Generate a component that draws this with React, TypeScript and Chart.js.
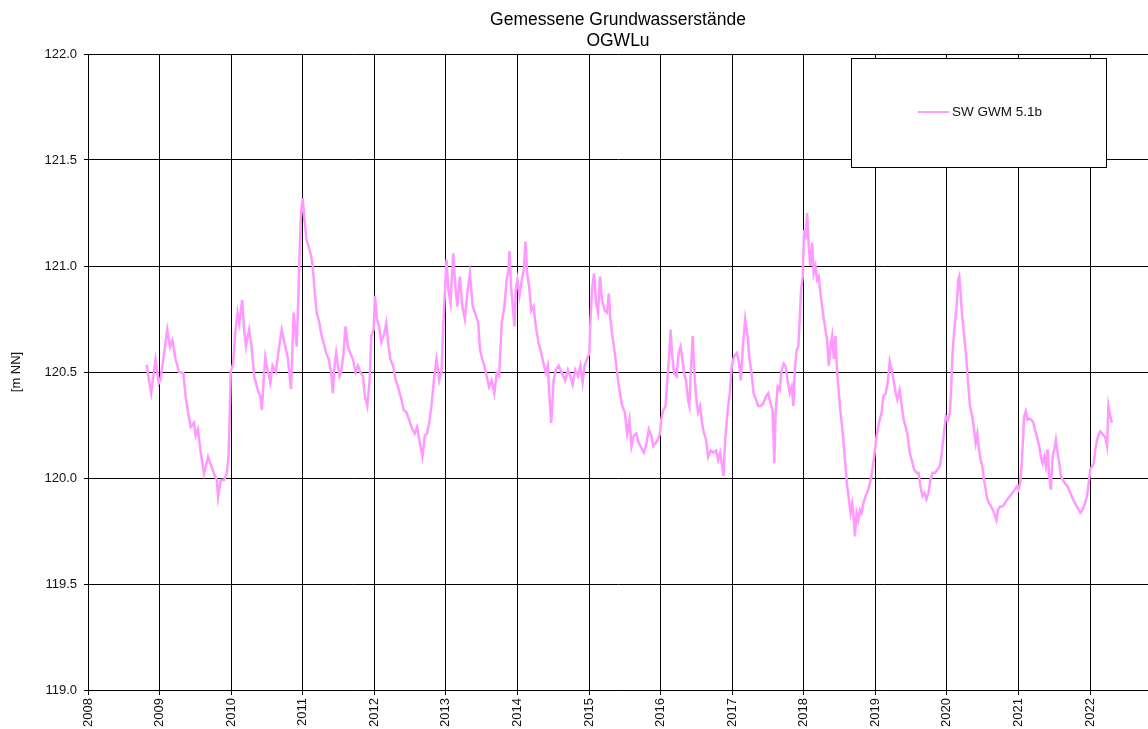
import { useEffect, useRef } from 'react';
import { Chart, registerables } from 'chart.js';

Chart.register(...registerables);

const chartTitle = ['Gemessene Grundwasserstände', 'OGWLu'];
const seriesLabel = 'SW GWM 5.1b';
const yAxisLabel = '[m NN]';
const yearTicks = [2008, 2009, 2010, 2011, 2012, 2013, 2014, 2015, 2016, 2017, 2018, 2019, 2020, 2021, 2022];
const levelTicks = [119.0, 119.5, 120.0, 120.5, 121.0, 121.5, 122.0];

// sample time (decimal year) and measured level [m NN], 2008-2010
const years2008 = [2008.818, 2008.85, 2008.883, 2008.944, 2008.99, 2009.014, 2009.107, 2009.145, 2009.178, 2009.224, 2009.271, 2009.332, 2009.364, 2009.397, 2009.435, 2009.481, 2009.505, 2009.537, 2009.575, 2009.621, 2009.678, 2009.724, 2009.762, 2009.8, 2009.818, 2009.855, 2009.902, 2009.939, 2009.963, 2009.981, 2009.995, 2010.028, 2010.056, 2010.089, 2010.112, 2010.154, 2010.182, 2010.206, 2010.252, 2010.285, 2010.322, 2010.36, 2010.407, 2010.43, 2010.453, 2010.477, 2010.509, 2010.547, 2010.579, 2010.626, 2010.659, 2010.706, 2010.743, 2010.79, 2010.836, 2010.874, 2010.916, 2010.939, 2010.958, 2010.977];
const levels2008 = [120.535, 120.464, 120.40, 120.558, 120.448, 120.464, 120.70, 120.62, 120.65, 120.56, 120.50, 120.495, 120.385, 120.31, 120.24, 120.26, 120.20, 120.23, 120.12, 120.02, 120.10, 120.055, 120.02, 119.99, 119.91, 119.99, 119.99, 120.02, 120.10, 120.31, 120.50, 120.54, 120.68, 120.78, 120.73, 120.84, 120.70, 120.62, 120.70, 120.62, 120.48, 120.43, 120.385, 120.32, 120.46, 120.57, 120.51, 120.45, 120.53, 120.50, 120.59, 120.70, 120.64, 120.57, 120.42, 120.78, 120.62, 120.86, 121.08, 121.25];

// 2011-2013
const years2011 = [2011.0, 2011.023, 2011.056, 2011.084, 2011.117, 2011.14, 2011.164, 2011.196, 2011.234, 2011.257, 2011.29, 2011.327, 2011.364, 2011.397, 2011.421, 2011.444, 2011.467, 2011.491, 2011.514, 2011.537, 2011.57, 2011.598, 2011.631, 2011.664, 2011.701, 2011.738, 2011.771, 2011.804, 2011.841, 2011.869, 2011.902, 2011.935, 2011.958, 2011.991, 2012.009, 2012.037, 2012.065, 2012.098, 2012.131, 2012.168, 2012.192, 2012.224, 2012.262, 2012.299, 2012.332, 2012.379, 2012.411, 2012.449, 2012.486, 2012.519, 2012.565, 2012.598, 2012.636, 2012.673, 2012.706, 2012.738, 2012.766, 2012.799, 2012.832, 2012.869, 2012.907, 2012.939, 2012.963, 2012.986, 2013.009, 2013.033, 2013.065, 2013.103, 2013.126, 2013.159, 2013.196, 2013.229, 2013.266, 2013.299, 2013.336, 2013.374, 2013.407];
const levels2011 = [121.32, 121.22, 121.12, 121.09, 121.05, 121.0, 120.89, 120.78, 120.73, 120.68, 120.64, 120.59, 120.56, 120.50, 120.40, 120.53, 120.59, 120.53, 120.48, 120.50, 120.59, 120.715, 120.62, 120.59, 120.56, 120.50, 120.53, 120.50, 120.48, 120.385, 120.34, 120.46, 120.67, 120.70, 120.86, 120.75, 120.715, 120.64, 120.67, 120.73, 120.64, 120.56, 120.53, 120.46, 120.43, 120.37, 120.32, 120.31, 120.275, 120.24, 120.21, 120.24, 120.165, 120.10, 120.20, 120.21, 120.26, 120.34, 120.46, 120.56, 120.46, 120.50, 120.715, 120.87, 121.03, 120.89, 120.825, 121.06, 120.935, 120.81, 120.95, 120.81, 120.75, 120.87, 120.965, 120.81, 120.78];

// 2013-2015
const years2013 = [2013.453, 2013.477, 2013.509, 2013.537, 2013.57, 2013.603, 2013.64, 2013.678, 2013.71, 2013.743, 2013.762, 2013.78, 2013.818, 2013.85, 2013.874, 2013.888, 2013.911, 2013.935, 2013.958, 2013.977, 2014.0, 2014.028, 2014.061, 2014.089, 2014.112, 2014.136, 2014.164, 2014.192, 2014.224, 2014.257, 2014.294, 2014.332, 2014.364, 2014.397, 2014.425, 2014.444, 2014.472, 2014.505, 2014.537, 2014.575, 2014.621, 2014.668, 2014.706, 2014.738, 2014.771, 2014.808, 2014.846, 2014.879, 2014.911, 2014.939, 2014.972, 2015.005, 2015.019, 2015.042, 2015.07, 2015.098, 2015.126, 2015.154, 2015.182, 2015.22, 2015.252, 2015.276, 2015.299, 2015.322, 2015.36, 2015.393, 2015.425, 2015.463, 2015.5, 2015.533, 2015.565, 2015.593, 2015.626, 2015.659, 2015.696];
const levels2013 = [120.73, 120.605, 120.56, 120.53, 120.48, 120.43, 120.46, 120.40, 120.495, 120.48, 120.605, 120.73, 120.81, 120.935, 120.98, 121.07, 120.90, 120.81, 120.715, 120.89, 120.935, 120.86, 120.935, 120.98, 121.115, 120.965, 120.90, 120.79, 120.81, 120.715, 120.64, 120.59, 120.54, 120.495, 120.53, 120.40, 120.26, 120.46, 120.51, 120.53, 120.495, 120.46, 120.51, 120.48, 120.44, 120.51, 120.48, 120.53, 120.45, 120.53, 120.56, 120.59, 120.73, 120.89, 120.965, 120.825, 120.78, 120.95, 120.84, 120.79, 120.78, 120.87, 120.75, 120.68, 120.59, 120.495, 120.415, 120.34, 120.31, 120.21, 120.275, 120.15, 120.20, 120.21, 120.165];

// 2015-2017
const years2016 = [2015.766, 2015.804, 2015.836, 2015.869, 2015.897, 2015.93, 2015.963, 2015.991, 2016.009, 2016.037, 2016.07, 2016.093, 2016.117, 2016.14, 2016.159, 2016.187, 2016.224, 2016.252, 2016.28, 2016.304, 2016.327, 2016.355, 2016.383, 2016.402, 2016.421, 2016.449, 2016.472, 2016.495, 2016.523, 2016.551, 2016.579, 2016.607, 2016.636, 2016.664, 2016.701, 2016.738, 2016.776, 2016.804, 2016.832, 2016.86, 2016.879, 2016.902, 2016.935, 2016.967, 2016.995, 2017.028, 2017.065, 2017.098, 2017.121, 2017.15, 2017.182, 2017.215, 2017.243, 2017.271, 2017.299, 2017.332, 2017.364, 2017.402, 2017.439, 2017.472, 2017.505, 2017.533, 2017.565, 2017.589, 2017.607, 2017.636, 2017.664, 2017.692, 2017.72, 2017.743, 2017.776, 2017.804, 2017.832, 2017.855, 2017.879, 2017.902, 2017.925, 2017.944, 2017.963, 2017.986, 2018.005];
const levels2016 = [120.12, 120.165, 120.23, 120.20, 120.15, 120.165, 120.18, 120.21, 120.275, 120.32, 120.34, 120.46, 120.56, 120.70, 120.59, 120.495, 120.48, 120.59, 120.62, 120.56, 120.495, 120.46, 120.37, 120.34, 120.495, 120.67, 120.495, 120.385, 120.31, 120.34, 120.26, 120.21, 120.18, 120.10, 120.13, 120.12, 120.13, 120.085, 120.12, 120.055, 120.01, 120.18, 120.31, 120.40, 120.53, 120.575, 120.59, 120.54, 120.46, 120.62, 120.75, 120.67, 120.56, 120.495, 120.40, 120.37, 120.34, 120.34, 120.355, 120.385, 120.40, 120.355, 120.32, 120.07, 120.31, 120.43, 120.415, 120.51, 120.54, 120.53, 120.46, 120.40, 120.43, 120.34, 120.53, 120.605, 120.62, 120.75, 120.89, 120.95, 121.17];

// 2018-2020
const years2018 = [2018.023, 2018.047, 2018.07, 2018.093, 2018.117, 2018.14, 2018.164, 2018.187, 2018.21, 2018.234, 2018.257, 2018.28, 2018.304, 2018.327, 2018.35, 2018.374, 2018.397, 2018.421, 2018.444, 2018.467, 2018.491, 2018.514, 2018.537, 2018.561, 2018.584, 2018.607, 2018.631, 2018.654, 2018.678, 2018.701, 2018.715, 2018.738, 2018.762, 2018.785, 2018.808, 2018.832, 2018.864, 2018.902, 2018.935, 2018.967, 2018.991, 2019.019, 2019.051, 2019.089, 2019.112, 2019.145, 2019.173, 2019.201, 2019.229, 2019.257, 2019.285, 2019.308, 2019.341, 2019.369, 2019.397, 2019.425, 2019.453, 2019.481, 2019.509, 2019.542, 2019.575, 2019.603, 2019.631, 2019.659, 2019.687, 2019.715, 2019.743, 2019.771, 2019.799, 2019.836, 2019.869, 2019.902, 2019.93, 2019.958, 2019.986, 2020.014, 2020.042, 2020.061, 2020.079, 2020.107, 2020.136, 2020.159, 2020.173, 2020.192, 2020.21, 2020.238, 2020.266, 2020.294, 2020.322];
const levels2018 = [121.125, 121.25, 121.09, 121.0, 121.11, 120.965, 121.0, 120.935, 120.95, 120.87, 120.81, 120.75, 120.70, 120.65, 120.53, 120.62, 120.67, 120.56, 120.67, 120.495, 120.40, 120.31, 120.24, 120.15, 120.055, 119.96, 119.90, 119.835, 119.88, 119.80, 119.725, 119.835, 119.80, 119.85, 119.835, 119.88, 119.915, 119.945, 119.99, 120.055, 120.12, 120.20, 120.26, 120.31, 120.385, 120.40, 120.45, 120.55, 120.51, 120.46, 120.40, 120.37, 120.415, 120.34, 120.275, 120.24, 120.20, 120.12, 120.085, 120.04, 120.025, 120.025, 119.96, 119.915, 119.93, 119.90, 119.93, 119.99, 120.025, 120.025, 120.04, 120.055, 120.12, 120.21, 120.29, 120.275, 120.31, 120.43, 120.59, 120.715, 120.81, 120.935, 120.95, 120.87, 120.78, 120.68, 120.59, 120.46, 120.34];

// 2020-2022
const years2021 = [2020.355, 2020.379, 2020.402, 2020.425, 2020.449, 2020.472, 2020.495, 2020.519, 2020.542, 2020.565, 2020.589, 2020.621, 2020.659, 2020.692, 2020.715, 2020.743, 2020.776, 2020.808, 2020.846, 2020.883, 2020.916, 2020.949, 2020.977, 2021.0, 2021.023, 2021.047, 2021.065, 2021.079, 2021.103, 2021.126, 2021.15, 2021.182, 2021.21, 2021.229, 2021.257, 2021.29, 2021.313, 2021.336, 2021.36, 2021.383, 2021.407, 2021.43, 2021.453, 2021.477, 2021.5, 2021.523, 2021.547, 2021.57, 2021.593, 2021.621, 2021.65, 2021.687, 2021.724, 2021.757, 2021.79, 2021.827, 2021.864, 2021.897, 2021.93, 2021.958, 2021.981, 2022.005, 2022.028, 2022.051, 2022.075, 2022.098, 2022.121, 2022.145, 2022.178, 2022.21, 2022.238, 2022.257, 2022.276, 2022.294, 2022.308];
const levels2021 = [120.29, 120.23, 120.165, 120.21, 120.135, 120.085, 120.055, 119.99, 119.945, 119.90, 119.88, 119.865, 119.835, 119.80, 119.85, 119.865, 119.865, 119.88, 119.90, 119.915, 119.93, 119.945, 119.96, 119.945, 119.975, 120.07, 120.195, 120.29, 120.315, 120.275, 120.28, 120.275, 120.26, 120.23, 120.195, 120.15, 120.10, 120.07, 120.10, 120.055, 120.135, 120.01, 119.945, 120.10, 120.135, 120.18, 120.12, 120.07, 120.01, 119.99, 119.975, 119.96, 119.93, 119.905, 119.88, 119.86, 119.835, 119.85, 119.88, 119.915, 119.975, 120.04, 120.055, 120.07, 120.135, 120.18, 120.205, 120.22, 120.205, 120.195, 120.15, 120.34, 120.305, 120.275, 120.26];

const allYears = [...years2008, ...years2011, ...years2013, ...years2016, ...years2018, ...years2021];
const allLevels = [...levels2008, ...levels2011, ...levels2013, ...levels2016, ...levels2018, ...levels2021];

const FONT = '"Liberation Sans", Arial, Helvetica, sans-serif';
const LINE_COLOR = '#ff99ff';

const legendBoxPlugin = {
  id: 'legendBox',
  afterDraw(chart: any) {
    const ctx = chart.ctx;
    const ds = chart.data.datasets[0];
    const bx = 851, by = 58, bw = 255, bh = 109;
    ctx.save();
    ctx.fillStyle = '#ffffff';
    ctx.fillRect(bx, by, bw, bh);
    ctx.strokeStyle = '#000000';
    ctx.lineWidth = 1;
    ctx.strokeRect(bx + 0.5, by + 0.5, bw, bh);
    const ly = 112;
    ctx.strokeStyle = ds.borderColor;
    ctx.lineWidth = 2;
    ctx.beginPath();
    ctx.moveTo(918, ly);
    ctx.lineTo(949, ly);
    ctx.stroke();
    ctx.fillStyle = '#111111';
    ctx.font = `13.5px ${FONT}`;
    ctx.textBaseline = 'middle';
    ctx.textAlign = 'left';
    ctx.fillText(ds.label, 952, ly);
    ctx.restore();
  },
};

export default function App() {
  const canvasRef = useRef<HTMLCanvasElement | null>(null);

  useEffect(() => {
    if (!canvasRef.current) return;
    const points = allYears.map((t, i) => ({ x: t, y: allLevels[i] }));
    const chart = new Chart(canvasRef.current, {
      type: 'line',
      data: {
        datasets: [
          {
            label: seriesLabel,
            data: points,
            borderColor: LINE_COLOR,
            backgroundColor: LINE_COLOR,
            borderWidth: 2.5,
            pointRadius: 0,
            tension: 0,
            fill: false,
          },
        ],
      },
      options: {
        animation: false,
        responsive: false,
        devicePixelRatio: 1,
        layout: { padding: 0 },
        plugins: {
          legend: { display: false },
          tooltip: { enabled: false },
          title: {
            display: true,
            text: chartTitle,
            fullSize: false,
            color: '#000',
            font: { family: FONT, size: 17.5, weight: 'normal', lineHeight: 1.2 },
            padding: { top: 10, bottom: 2 },
          },
        },
        scales: {
          x: {
            type: 'linear',
            min: 2008,
            max: 2022.81,
            afterBuildTicks: (scale: any) => {
              scale.ticks = yearTicks.map((v) => ({ value: v }));
            },
            afterFit: (scale: any) => {
              scale.height = 39;
            },
            ticks: {
              autoSkip: false,
              minRotation: 90,
              maxRotation: 90,
              padding: 3,
              color: '#111',
              font: { family: FONT, size: 13 },
              callback: (v: any) => String(v),
            },
            grid: { color: '#000', lineWidth: 1, tickLength: 5, drawTicks: true },
            border: { display: true, color: '#000', width: 1 },
          },
          y: {
            type: 'linear',
            min: 119,
            max: 122,
            afterBuildTicks: (scale: any) => {
              scale.ticks = levelTicks.map((v) => ({ value: v }));
            },
            afterFit: (scale: any) => {
              scale.width = 88;
            },
            ticks: {
              padding: 7,
              color: '#111',
              font: { family: FONT, size: 13 },
              callback: (v: any) => Number(v).toFixed(1),
            },
            grid: { color: '#000', lineWidth: 1, tickLength: 4, drawTicks: true },
            border: { display: true, color: '#000', width: 1 },
            title: {
              display: true,
              text: yAxisLabel,
              color: '#111',
              font: { family: FONT, size: 13 },
              padding: { top: 9, bottom: 0 },
            },
          },
        },
      },
      plugins: [legendBoxPlugin],
    });
    return () => chart.destroy();
  }, []);

  return (
    <div style={{ position: 'fixed', left: 0, top: 0, width: 1148, height: 729, background: '#fff' }}>
      <canvas ref={canvasRef} width={1148} height={729} style={{ display: 'block' }} />
    </div>
  );
}
